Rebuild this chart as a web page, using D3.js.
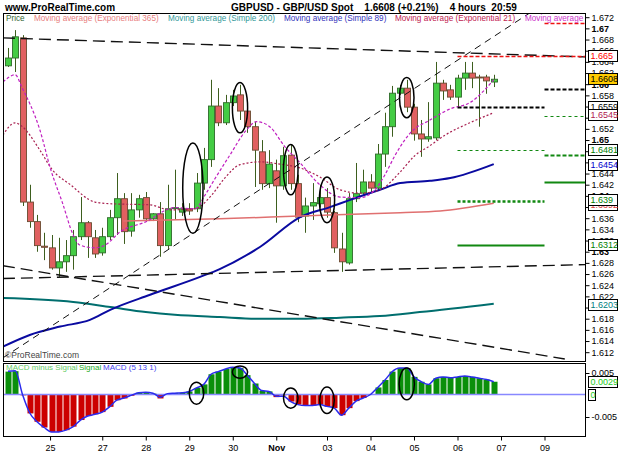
<!DOCTYPE html>
<html>
<head>
<meta charset="utf-8">
<style>
  body { margin: 0; background: #fff; }
  svg { display: block; font-family: "Liberation Sans", Arial, sans-serif; }
</style>
</head>
<body>
<svg id="chart" width="625" height="469"></svg>
<script src="https://cdn.jsdelivr.net/npm/d3@7"></script>
<script>
// GBPUSD 4 hour candles
const opens  = [1.6632,1.6646,1.6682,1.6388,1.6353,1.6309,1.6306,1.6270,1.6281,1.6292,1.6326,1.6351,1.6324,1.6297,1.6326,1.6360,1.6394,1.6336,1.6374,1.6396,1.6358,1.6367,1.6310,1.6377,1.6370,1.6376,1.6376,1.6422,1.6464,1.6560,1.6530,1.6566,1.6580,1.6551,1.6523,1.6478,1.6421,1.6444,1.6417,1.6472,1.6421,1.6363,1.6381,1.6385,1.6396,1.6369,1.6304,1.6279,1.6394,1.6404,1.6424,1.6413,1.6474,1.6523,1.6583,1.6592,1.6558,1.6510,1.6501,1.6503,1.6601,1.6589,1.6576,1.6610,1.6619,1.6612,1.6612,1.6603];
const highs  = [1.6664,1.6696,1.6687,1.6419,1.6365,1.6333,1.6329,1.6324,1.6320,1.6338,1.6397,1.6354,1.6338,1.6342,1.6374,1.6440,1.6404,1.6404,1.6401,1.6406,1.6368,1.6388,1.6419,1.6446,1.6386,1.6386,1.6440,1.6485,1.6607,1.6592,1.6580,1.6589,1.6598,1.6557,1.6532,1.6499,1.6481,1.6464,1.6487,1.6490,1.6437,1.6396,1.6422,1.6419,1.6413,1.6372,1.6333,1.6404,1.6458,1.6446,1.6438,1.6492,1.6548,1.6596,1.6598,1.6607,1.6564,1.6535,1.6567,1.6639,1.6607,1.6598,1.6616,1.6639,1.6639,1.6616,1.6616,1.6616];
const lows   = [1.6630,1.6621,1.6381,1.6342,1.6299,1.6284,1.6267,1.6254,1.6263,1.6267,1.6320,1.6288,1.6288,1.6292,1.6320,1.6329,1.6313,1.6326,1.6360,1.6356,1.6354,1.6290,1.6304,1.6356,1.6363,1.6365,1.6370,1.6410,1.6451,1.6524,1.6526,1.6560,1.6535,1.6512,1.6415,1.6410,1.6413,1.6351,1.6410,1.6410,1.6352,1.6333,1.6356,1.6378,1.6360,1.6297,1.6263,1.6276,1.6388,1.6401,1.6404,1.6410,1.6451,1.6505,1.6580,1.6549,1.6498,1.6469,1.6496,1.6499,1.6571,1.6571,1.6560,1.6589,1.6592,1.6523,1.6582,1.6594];
const closes = [1.6646,1.6684,1.6388,1.6353,1.6310,1.6307,1.6270,1.6281,1.6292,1.6326,1.6351,1.6326,1.6295,1.6326,1.6360,1.6394,1.6335,1.6374,1.6394,1.6358,1.6367,1.6310,1.6376,1.6378,1.6376,1.6372,1.6422,1.6464,1.6560,1.6530,1.6566,1.6578,1.6551,1.6523,1.6481,1.6421,1.6456,1.6417,1.6471,1.6421,1.6361,1.6381,1.6387,1.6396,1.6370,1.6306,1.6281,1.6394,1.6403,1.6424,1.6413,1.6474,1.6523,1.6583,1.6592,1.6558,1.6510,1.6501,1.6505,1.6601,1.6587,1.6576,1.6610,1.6619,1.6610,1.6611,1.6605,1.6608];

// moving averages as read points (bar index, price)
const maShortIdx = [-0.7,1,1.9,4.4,5.9,7.5,9,9.9,12,13.4,15.5,18.9,23,25.8,27.2,28.6,30.6,32.7,34.3,36.1,38.2,40.3,43,45.8,48.6,50.6,52,53.4,55.5,58.2,61,63.7,67];
const maShortVal = [1.6603,1.6616,1.6594,1.6517,1.6446,1.6387,1.6329,1.6311,1.6306,1.6311,1.6335,1.6352,1.6378,1.6376,1.6401,1.6431,1.6472,1.6514,1.6532,1.6523,1.6487,1.6458,1.6419,1.6397,1.6396,1.6410,1.6437,1.6472,1.6512,1.6535,1.6555,1.6566,1.6607];
const ema21Idx = [-0.7,1,1.9,4.4,6.1,8.6,12,14.1,19.6,22.3,25.8,28,29.9,32,34.8,37.5,40.3,43,45.8,48.6,51.3,54.1,56.1,58.2,60.3,63.7,67];
const ema21Val = [1.6508,1.6530,1.6524,1.6481,1.6446,1.6419,1.6388,1.6385,1.6383,1.6374,1.6376,1.6399,1.6431,1.6455,1.6460,1.6456,1.6449,1.6433,1.6410,1.6404,1.6410,1.6442,1.6471,1.6489,1.6508,1.6530,1.6548];
const sma89Idx = [-0.7,3,7.2,11.3,14.1,19.6,26.5,29.2,34.8,40.3,44.4,47.2,51.3,54.1,58.2,61,67];
const sma89Val = [1.6129,1.6150,1.6165,1.6177,1.6195,1.6222,1.6254,1.6268,1.6308,1.6361,1.6379,1.6392,1.6410,1.6422,1.6426,1.6431,1.6456];
const sma200Idx = [-0.7,9,14.1,19,23,29.2,34.8,40.3,45.8,51.3,56.8,67];
const sma200Val = [1.6216,1.6209,1.6200,1.6191,1.6186,1.6182,1.6179,1.6179,1.6181,1.6184,1.6191,1.6206];
const ema365Idx = [15.9,29.2,40.3,54.1,59.6,67];
const ema365Val = [1.6354,1.6358,1.6363,1.6369,1.6372,1.6386];

// MACD (5 13 1)
const macdHist = [0.0052,0.0053,-0.0002,-0.0043,-0.0062,-0.0075,-0.0085,-0.0085,-0.0081,-0.0073,-0.0058,-0.0049,-0.0045,-0.0040,-0.0028,-0.0013,-0.0009,-0.0003,0.0004,0.0005,0.0002,-0.0009,0.0001,0.0003,0.0004,0.0007,0.0015,0.0023,0.0046,0.0052,0.0058,0.0062,0.0060,0.0044,0.0025,0.0008,0.0007,-0.0006,-0.0002,-0.0016,-0.0023,-0.0025,-0.0025,-0.0023,-0.0027,-0.0031,-0.0047,-0.0031,-0.0015,-0.0008,0.0000,0.0016,0.0033,0.0052,0.0060,0.0060,0.0040,0.0029,0.0023,0.0037,0.0040,0.0038,0.0040,0.0042,0.0040,0.0037,0.0034,0.0029];
const macdLine = [0.0053,0.0054,0.0000,-0.0042,-0.0062,-0.0075,-0.0085,-0.0085,-0.0081,-0.0073,-0.0058,-0.0049,-0.0045,-0.0040,-0.0028,-0.0013,-0.0008,-0.0002,0.0004,0.0005,0.0003,-0.0006,0.0002,0.0003,0.0004,0.0007,0.0015,0.0023,0.0046,0.0052,0.0058,0.0062,0.0060,0.0044,0.0025,0.0009,0.0007,-0.0004,-0.0004,-0.0016,-0.0023,-0.0025,-0.0025,-0.0023,-0.0027,-0.0031,-0.0047,-0.0031,-0.0015,-0.0008,0.0000,0.0016,0.0033,0.0052,0.0060,0.0060,0.0040,0.0029,0.0023,0.0037,0.0040,0.0038,0.0040,0.0042,0.0040,0.0037,0.0034,0.0029];

// dashed trend lines: [startIdx, startPrice, endIdx, endPrice]
const trendLines = [
  [-0.7, 1.6682, 79.6, 1.6648],
  [-0.7, 1.6109, 72.0, 1.6727],
  [-0.7, 1.6274, 76.8, 1.6107],
  [-0.7, 1.6251, 79.6, 1.6276]
];
// horizontal levels [fromIdx, toIdx, price]
const levels = [
  [62, 79.6, 1.665], [62, 74, 1.6559], [62, 74, 1.6481], [62, 74, 1.639], [62, 74, 1.6312],
  [74, 79.6, 1.6709], [74, 79.6, 1.6591], [74, 79.6, 1.6542], [74, 79.6, 1.6472], [74, 79.6, 1.6424]
];
const levelStyle = ["red", "black", "gthin", "gdot", "gsolid", "red", "black", "gthin", "gthick", "gsolid"];

// hand drawn ellipses: [idx, value, halfBars, halfValue]
const priceEllipses = [[25.5, 1.6413, 1.4, 0.0081], [32, 1.6557, 1.05, 0.0045], [39, 1.6446, 1.0, 0.0045], [44, 1.6392, 1.05, 0.0041], [55, 1.6575, 1.0, 0.0036]];
const macdEllipses = [[26, 0.0003, 1.0, 0.0025], [32, 0.0051, 1.05, 0.0014], [39, -0.0008, 1.0, 0.0023], [44, -0.0013, 1.0, 0.003], [55, 0.0024, 1.05, 0.0036]];

// price tags on the right axis
const tagValues = [1.665, 1.6608, 1.6559, 1.6545, 1.6481, 1.6454, 1.6392, 1.639, 1.6312, 1.6203];
const tagLabels = ["1.665", "1.6608", "1.6559", "1.6545", "1.6481", "1.6454", "1.6392", "1.639", "1.6312", "1.6203"];
const tagColors = ["#ff0000", "#000000", "#000000", "#b02050", "#008000", "#0000cc", "#e04040", "#008000", "#008000", "#008080"];
const tagNudge = [0, 0, 0, 1, 0, 0, 5, -1, 0, 0];

const dayTicks = [5.8, 13, 19, 25, 31, 37, 44, 50, 56, 62, 68, 74];
const dayLabels = ["25", "27", "28", "29", "30", "Nov", "03", "04", "05", "06", "07", "09"];

const svg = d3.select("#chart");
const L = 3, R = 585, mTop = 13, mBot = 361, dTop = 363, dBot = 436;

const x = d3.scaleLinear().domain([0, 67]).range([8, 493.75]);
const y = d3.scaleLinear().domain([1.612, 1.672]).range([351.7, 16.7]);
const ym = d3.scaleLinear().domain([-0.005, 0.005]).range([416.5, 372.5]);

svg.append("rect").attr("width", 625).attr("height", 469).attr("fill", "#fff");

const defs = svg.append("defs");
defs.append("clipPath").attr("id", "cm").append("rect").attr("x", L).attr("y", mTop).attr("width", R - L).attr("height", mBot - mTop);
defs.append("clipPath").attr("id", "cd").append("rect").attr("x", L).attr("y", dTop).attr("width", R - L).attr("height", dBot - dTop);

// header
svg.append("text").attr("x", 5).attr("y", 11).attr("font-size", 10).attr("font-weight", "bold").text("www.ProRealTime.com");
svg.append("text").attr("x", 231).attr("y", 11).attr("font-size", 10).attr("font-weight", "bold")
  .attr("xml:space", "preserve").text("GBPUSD - GBP/USD Spot    1.6608 (+0.21%)    4 hours  20:59");

const main = svg.append("g").attr("clip-path", "url(#cm)");

// candles
const idx = d3.range(closes.length);
const cx = i => Math.round(x(i)) + 0.5;
main.append("g").selectAll("line").data(idx).join("line")
  .attr("x1", cx).attr("x2", cx)
  .attr("y1", i => y(highs[i])).attr("y2", i => y(lows[i]))
  .attr("stroke", "#3d5e1e").attr("stroke-width", 1);
main.append("g").selectAll("rect").data(idx).join("rect")
  .attr("x", i => cx(i) - 3)
  .attr("width", 6)
  .attr("y", i => y(Math.max(opens[i], closes[i])))
  .attr("height", i => Math.max(1, Math.abs(y(opens[i]) - y(closes[i]))))
  .attr("fill", i => closes[i] >= opens[i] ? "#44cc44" : "#e06060")
  .attr("stroke", i => closes[i] >= opens[i] ? "#2f6a2a" : "#6a4a30")
  .attr("stroke-width", 0.9);

// moving averages
function maLine(ix, vals, color, width, dash) {
  const line = d3.line().x((d, i) => x(ix[i])).y(d => y(d)).curve(d3.curveMonotoneX);
  main.append("path").datum(vals).attr("d", line).attr("fill", "none")
    .attr("stroke", color).attr("stroke-width", width).attr("stroke-dasharray", dash);
}
maLine(sma200Idx, sma200Val, "#006e6e", 2, null);
maLine(sma89Idx, sma89Val, "#0a0aa0", 2, null);
maLine(ema365Idx, ema365Val, "#e07070", 1.5, null);
maLine(ema21Idx, ema21Val, "#a82050", 1.2, "2,2");
maLine(maShortIdx, maShortVal, "#c020c0", 1.2, "3,2");

// trend lines
main.append("g").selectAll("line").data(trendLines).join("line")
  .attr("x1", d => x(d[0])).attr("y1", d => y(d[1]))
  .attr("x2", d => x(d[2])).attr("y2", d => y(d[3]))
  .attr("stroke", "#111").attr("stroke-width", (d, i) => i === 1 ? 1 : 1.4)
  .attr("stroke-dasharray", (d, i) => i === 1 ? "7,5" : "12,6");

// levels
const lvlStyle = {
  red:    { c: "#ee1111", w: 1.5, d: "4,2" },
  black:  { c: "#000000", w: 2,   d: "4,2" },
  gthin:  { c: "#118811", w: 1.2, d: "3,3" },
  gthick: { c: "#118811", w: 2.2, d: "4,2" },
  gdot:   { c: "#118811", w: 2.5, d: "3,2" },
  gsolid: { c: "#118811", w: 2,   d: null }
};
main.append("g").selectAll("line").data(levels).join("line")
  .attr("x1", d => x(d[0])).attr("x2", d => x(d[1]))
  .attr("y1", d => Math.round(y(d[2])) + 0.5).attr("y2", d => Math.round(y(d[2])) + 0.5)
  .attr("stroke", (d, i) => lvlStyle[levelStyle[i]].c)
  .attr("stroke-width", (d, i) => lvlStyle[levelStyle[i]].w)
  .attr("stroke-dasharray", (d, i) => lvlStyle[levelStyle[i]].d);

// ellipses
main.append("g").selectAll("ellipse").data(priceEllipses).join("ellipse")
  .attr("cx", d => x(d[0])).attr("cy", d => y(d[1]))
  .attr("rx", d => x(d[0] + d[2]) - x(d[0])).attr("ry", d => y(d[1]) - y(d[1] + d[3]))
  .attr("fill", "none").attr("stroke", "#000").attr("stroke-width", 1.5);

// legend
const legend = [["Price", "#336633", 6], ["Moving average (Exponential 365)", "#e88080", 34], ["Moving average (Simple 200)", "#339999", 168],
  ["Moving average (Simple 89)", "#3333bb", 284], ["Moving average (Exponential 21)", "#c02050", 395], ["Moving average", "#cc33cc", 525]];
svg.append("g").selectAll("text").data(legend).join("text")
  .attr("x", d => d[2]).attr("y", 21).attr("font-size", 8.2).attr("fill", d => d[1]).text(d => d[0]);
svg.append("text").attr("x", 5).attr("y", 358).attr("font-size", 8.5).attr("fill", "#444").text("\u00a9ProRealTime.com");

// MACD panel
const macd = svg.append("g").attr("clip-path", "url(#cd)");
macd.append("g").selectAll("rect").data(idx).join("rect")
  .attr("x", i => cx(i) - 3).attr("width", 6)
  .attr("y", i => Math.min(ym(0), ym(macdHist[i])))
  .attr("height", i => Math.abs(ym(macdHist[i]) - ym(0)))
  .attr("fill", i => macdHist[i] >= 0 ? "#0a8f0a" : "#cc0000");
macd.append("line").attr("x1", L).attr("x2", R).attr("y1", ym(0)).attr("y2", ym(0))
  .attr("stroke", "#8888ff").attr("stroke-width", 1.5);
macd.append("path").datum(macdLine)
  .attr("d", d3.line().x((d, i) => x(i)).y(d => ym(d)).curve(d3.curveMonotoneX))
  .attr("fill", "none").attr("stroke", "#2a2aee").attr("stroke-width", 1.5);
macd.append("g").selectAll("ellipse").data(macdEllipses).join("ellipse")
  .attr("cx", d => x(d[0])).attr("cy", d => ym(d[1]))
  .attr("rx", d => x(d[0] + d[2]) - x(d[0])).attr("ry", d => ym(d[1]) - ym(d[1] + d[3]))
  .attr("fill", "none").attr("stroke", "#000").attr("stroke-width", 1.5);
const mleg = [["MACD minus Signal", "#66cc66", 6], ["Signal", "#22aa22", 79], ["MACD (5 13 1)", "#4444ee", 103]];
svg.append("g").selectAll("text").data(mleg).join("text")
  .attr("x", d => d[2]).attr("y", 370).attr("font-size", 8).attr("fill", d => d[1]).text(d => d[0]);

// panel borders
svg.append("rect").attr("x", L + 0.5).attr("y", mTop + 0.5).attr("width", R - L).attr("height", mBot - mTop)
  .attr("fill", "none").attr("stroke", "#000");
svg.append("rect").attr("x", L + 0.5).attr("y", dTop + 0.5).attr("width", R - L).attr("height", dBot - dTop)
  .attr("fill", "none").attr("stroke", "#000");

// price axis; labels sitting right under a tag are left out, as the tag hides them
const tagY = tagValues.map((v, i) => Math.round(y(v)) + tagNudge[i]);
const pTicks = d3.range(0, 31).map(k => 1.612 + k * 0.002);
const pAxis = svg.append("g").attr("transform", `translate(${R + 0.5},0.5)`)
  .call(d3.axisRight(y).tickValues(pTicks).tickSize(4).tickPadding(2)
    .tickFormat(v => String(+v.toFixed(3))));
pAxis.select(".domain").remove();
pAxis.selectAll("text").attr("font-size", 9).attr("fill", "#000").attr("font-family", null)
  .attr("font-weight", d => Math.abs(d * 100 - Math.round(d * 100)) < 1e-6 ? "bold" : "normal")
  .attr("display", d => tagY.some(t => Math.abs(t - y(d)) < 4.5) ? "none" : null);

// price tags
const tags = svg.append("g").selectAll("g").data(tagValues).join("g")
  .attr("transform", (d, i) => `translate(588.5,${tagY[i]})`);
tags.append("rect").attr("x", 0).attr("y", -5.5).attr("width", 29).attr("height", 11)
  .attr("fill", (d, i) => i === 1 ? "#ffcc00" : "#fff").attr("stroke", "#000").attr("stroke-width", 1);
tags.append("text").attr("x", 2).attr("y", 3.3).attr("font-size", 9)
  .attr("fill", (d, i) => tagColors[i]).text((d, i) => tagLabels[i]);

// MACD axis
const mAxis = svg.append("g").attr("transform", `translate(${R + 0.5},0.5)`)
  .call(d3.axisRight(ym).tickValues([-0.005, 0.005]).tickSize(4).tickPadding(2).tickFormat(d3.format("")));
mAxis.select(".domain").remove();
mAxis.selectAll("text").attr("font-size", 9).attr("font-family", null).text(d => d > 0 ? "0.005" : "-0.005");
const mTags = [[0.0029, "0.0029", 29], [0, "0", 7]];
const mt = svg.append("g").selectAll("g").data(mTags).join("g")
  .attr("transform", d => `translate(588.5,${Math.round(ym(d[0]))})`);
mt.append("rect").attr("y", -5.5).attr("width", d => d[2]).attr("height", 11)
  .attr("fill", "#fff").attr("stroke", "#000");
mt.append("text").attr("x", 2).attr("y", 3.3).attr("font-size", 9).attr("fill", "#22cc22").text(d => d[1]);

// date axis
const dAxis = svg.append("g").attr("transform", `translate(0,${dBot + 0.5})`)
  .call(d3.axisBottom(x).tickValues(dayTicks).tickSize(4).tickPadding(4).tickFormat((d, i) => dayLabels[i]));
dAxis.select(".domain").remove();
dAxis.selectAll("text").attr("font-size", 9).attr("font-family", null)
  .attr("font-weight", (d, i) => dayLabels[i] === "Nov" ? "bold" : "normal");
</script>
</body>
</html>
